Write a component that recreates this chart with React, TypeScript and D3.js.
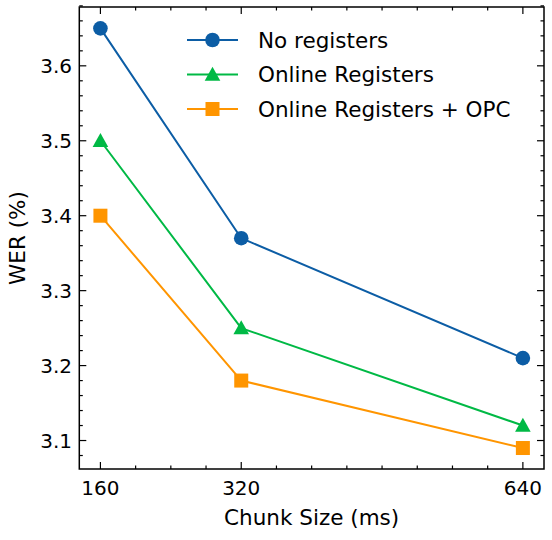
import React from "react";
import * as d3 from "d3";

const chunkSizes = [160, 320, 640];
const noRegisters = [3.65, 3.37, 3.21];
const onlineRegisters = [3.5, 3.25, 3.12];
const onlineRegistersOPC = [3.4, 3.18, 3.09];
const seriesNames = ["No registers", "Online Registers", "Online Registers + OPC"];
const seriesColors = ["#0C5DA5", "#00B945", "#FF9500"];
const seriesMarkers = ["circle", "triangle", "square"];
const xTicks = [160, 320, 640];
const yTicks = [3.1, 3.2, 3.3, 3.4, 3.5, 3.6];

const W = 552;
const H = 540;
const left = 79.3;
const right = 544;
const top = 7;
const bottom = 469;
const FONT = "'DejaVu Sans', sans-serif";
const FS_TICK = 20;
const FS_LABEL = 21.5;

function Marker({ type, x, y, color }: { type: string; x: number; y: number; color: string }) {
  if (type === "circle") return <circle cx={x} cy={y} r={7.3} fill={color} />;
  if (type === "triangle") {
    const s = 7.8;
    return (
      <path
        d={`M${x},${y - s} L${x + s},${y + s * 0.8} L${x - s},${y + s * 0.8} Z`}
        fill={color}
      />
    );
  }
  const s = 7;
  return <rect x={x - s} y={y - s} width={2 * s} height={2 * s} fill={color} />;
}

export default function App() {
  const x = d3.scaleLinear().domain([136, 664]).range([left, right]);
  const y = d3.scaleLinear().domain([3.062, 3.6785]).range([bottom, top]);
  const series = [noRegisters, onlineRegisters, onlineRegistersOPC];
  const line = d3
    .line<[number, number]>()
    .x((d) => x(d[0]))
    .y((d) => y(d[1]));
  const xMinor = d3.range(160, 664, 40).filter((v) => !xTicks.includes(v));
  const yMinor = d3.range(3.08, 3.68, 0.02).map((v) => +v.toFixed(2)).filter((v) => !yTicks.some((t) => Math.abs(t - v) < 1e-6));
  const major = 7;
  const minor = 3.5;
  const tickStyle = { fontFamily: FONT, fontSize: FS_TICK } as React.CSSProperties;
  const labelStyle = { fontFamily: FONT, fontSize: FS_LABEL } as React.CSSProperties;

  return (
    <svg width={W} height={H} style={{ position: "absolute", left: 0, top: 0 }}>
      <rect width={W} height={H} fill="white" />
      {series.map((vals, i) => (
        <g key={i}>
          <path
            d={line(chunkSizes.map((c, j) => [c, vals[j]] as [number, number])) || ""}
            fill="none"
            stroke={seriesColors[i]}
            strokeWidth={2}
          />
          {chunkSizes.map((c, j) => (
            <Marker key={j} type={seriesMarkers[i]} x={x(c)} y={y(vals[j])} color={seriesColors[i]} />
          ))}
        </g>
      ))}
      <g stroke="black" strokeWidth={1.2}>
        {xTicks.map((t) => (
          <g key={"xt" + t}>
            <line x1={x(t)} x2={x(t)} y1={bottom} y2={bottom - major} />
            <line x1={x(t)} x2={x(t)} y1={top} y2={top + major} />
          </g>
        ))}
        {xMinor.map((t) => (
          <g key={"xm" + t}>
            <line x1={x(t)} x2={x(t)} y1={bottom} y2={bottom - minor} />
            <line x1={x(t)} x2={x(t)} y1={top} y2={top + minor} />
          </g>
        ))}
        {yTicks.map((t) => (
          <g key={"yt" + t}>
            <line x1={left} x2={left + major} y1={y(t)} y2={y(t)} />
            <line x1={right} x2={right - major} y1={y(t)} y2={y(t)} />
          </g>
        ))}
        {yMinor.map((t) => (
          <g key={"ym" + t}>
            <line x1={left} x2={left + minor} y1={y(t)} y2={y(t)} />
            <line x1={right} x2={right - minor} y1={y(t)} y2={y(t)} />
          </g>
        ))}
      </g>
      <rect x={left} y={top} width={right - left} height={bottom - top} fill="none" stroke="black" strokeWidth={1.5} />
      {xTicks.map((t) => (
        <text key={"xl" + t} x={x(t)} y={495} textAnchor="middle" style={tickStyle}>
          {t}
        </text>
      ))}
      {yTicks.map((t) => (
        <text key={"yl" + t} x={72} y={y(t) + 7.3} textAnchor="end" style={tickStyle}>
          {t.toFixed(1)}
        </text>
      ))}
      <text x={(left + right) / 2} y={525} textAnchor="middle" style={labelStyle}>
        Chunk Size (ms)
      </text>
      <text transform={`translate(25,${(top + bottom) / 2}) rotate(-90)`} textAnchor="middle" style={labelStyle}>
        WER (%)
      </text>
      {seriesNames.map((name, i) => {
        const cy = 40 + i * 34.5;
        return (
          <g key={name}>
            <line x1={187} x2={238} y1={cy} y2={cy} stroke={seriesColors[i]} strokeWidth={2} />
            <Marker type={seriesMarkers[i]} x={212.5} y={cy} color={seriesColors[i]} />
            <text x={258} y={cy + 7.5} style={labelStyle}>
              {name}
            </text>
          </g>
        );
      })}
    </svg>
  );
}
